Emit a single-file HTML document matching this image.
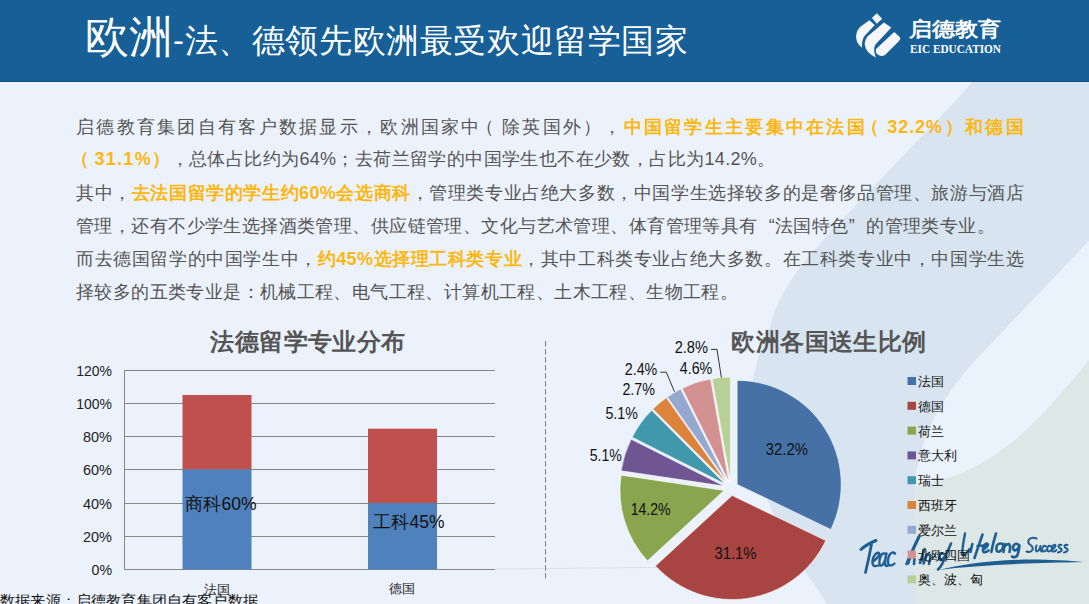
<!DOCTYPE html>
<html><head><meta charset="utf-8">
<style>
*{margin:0;padding:0;box-sizing:border-box}
html,body{width:1089px;height:604px;overflow:hidden}
body{position:relative;background:#ebf2fb;font-family:"Liberation Sans",sans-serif;color:#555}
#bg{position:absolute;left:0;top:0}
#hdr{position:absolute;left:0;top:0;width:1089px;height:82px;background:#165f97;border-bottom:1px solid #11507f}
#t1{position:absolute;left:85px;top:6.5px;color:#fff;white-space:nowrap;font-size:44px;line-height:60px}
#t1 span{font-size:33px;letter-spacing:0.6px}
.ln{text-spacing-trim:space-all;letter-spacing:0.3px;position:absolute;left:76px;width:948px;font-size:18px;line-height:33px;height:33px;white-space:nowrap;color:#555}
.j{text-align:justify;text-align-last:justify}
.lp{position:relative;left:-6px}
.o{color:#fcb712;font-weight:bold}
</style></head>
<body>
<svg id="bg" width="1089" height="604" viewBox="0 0 1089 604">
<rect width="1089" height="604" fill="#ebf2fb"/>
<path d="M973,81 L1089,81 L1089,241 L990,345 C960,375 935,410 925,440 C918,460 915,475 915.5,486 L915,604 L827,604 C815,585 808,575 800,566 C788,545 775,520 766,496 C752,465 748,420 752,385 C755,365 762,345 769,330 C774,312 778,302 785,290 C798,268 812,252 830.6,232 L899,160 L956.5,100 Z" fill="#d8e5f1"/>
<path d="M1089,241 L990,345 C960,375 935,410 925,440 C918,460 915,475 915.5,486 C930,484 955,477 970,469 C990,460 1010,445 1026,430 C1045,412 1065,390 1089,360 Z" fill="#eaf3fb"/>
<path d="M1089,360 C1065,390 1045,412 1026,430 C1010,445 990,460 970,469 C955,477 930,484 915.5,486 L915,604 L1089,604 Z" fill="#dce7e6"/>
<line x1="495" y1="569" x2="852" y2="565.5" stroke="#dae1ea" stroke-width="1"/>
</svg>
<div id="hdr"></div>
<svg id="logo" width="160" height="60" viewBox="850 8 160 60" style="position:absolute;left:850px;top:8px">
<g fill="#f4f6fa">
<path d="M871.9,17.9 L876.8,13.3 L882.2,18.7 L876.8,23.7 Z"/>
<path d="M869.4,20.3 L874.8,24.9 L864.5,36 Q861.5,40 862,47.7 Q855,42 856.2,35 Q857,30 860,27 Z"/>
<path d="M883.9,22.4 L891.3,27.4 L875.5,44.5 Q872.5,49 876,57.6 Q866,53 864.8,45 Q864.5,40 868,36 Z"/>
<path d="M894.2,31.9 L900,37.3 Q901,39 899,41 L885,55 Q882,56.5 879.5,55.6 Q875,54 876,49 Z"/>
</g>
<text x="909" y="35.5" font-family="Liberation Sans, sans-serif" font-weight="bold" font-size="19.5" fill="#fff" textLength="92" lengthAdjust="spacingAndGlyphs">启德教育</text>
<text x="910" y="52.6" font-family="Liberation Serif, serif" font-weight="bold" font-size="12" fill="#fff" textLength="91" lengthAdjust="spacingAndGlyphs">EIC EDUCATION</text>
</svg>
<div id="t1">欧洲<span>-法、德领先欧洲最受欢迎留学国家</span></div>

<div class="ln j" style="top:110.8px">启德教育集团自有客户数据显示，欧洲国家中<span class="lp">（</span>除英国外），<span class="o">中国留学生主要集中在法国<span class="lp">（</span><span style="letter-spacing:0.9px">32.2%</span>）和德国</span></div>
<div class="ln j" style="top:143.4px;width:699.5px"><span class="o"><span class="lp" style="left:-5px">（</span><span style="letter-spacing:1.3px">31.1%</span>）</span>，总体占比约为64%；去荷兰留学的中国学生也不在少数，占比为14.2%。</div>
<div class="ln j" style="top:176.9px">其中，<span class="o">去法国留学的学生约60%会选商科</span>，管理类专业占绝大多数，中国学生选择较多的是奢侈品管理、旅游与酒店</div>
<div class="ln j" style="top:209.5px;width:919px">管理，还有不少学生选择酒类管理、供应链管理、文化与艺术管理、体育管理等具有<span style="padding-left:11px">“</span>法国特色<span style="padding-right:11px">”</span>的管理类专业。</div>
<div class="ln j" style="top:242.9px">而去德国留学的中国学生中，<span class="o">约45%选择理工科类专业</span>，其中工科类专业占绝大多数。在工科类专业中，中国学生选</div>
<div class="ln j" style="top:275.5px;width:662px">择较多的五类专业是：机械工程、电气工程、计算机工程、土木工程、生物工程。</div>


<svg id="scr" width="1089" height="604" viewBox="0 0 1089 604" style="position:absolute;left:0;top:0">
<path d="M938.8,570 C960,565 990,560 1030,559.6 C1050,559.6 1070,560.6 1083.3,562 C1060,562.5 1040,563 1020,563.8 C990,565 960,567 938.8,570 Z" fill="#1f5e93"/>
<g fill="none" stroke="#1f5e93" stroke-linecap="round" stroke-linejoin="round" stroke-width="2.6">
<path d="M861,549.5 Q867,544 876,540.5" stroke-width="3"/>
<path d="M871.5,544 Q869,558 865.5,572.5" stroke-width="2.8"/>
<path d="M872.5,562 Q879,557 879.5,554 Q879,551.5 875.5,554 Q872,558.5 872.5,563.5 Q873.5,567.5 878,565.5" stroke-width="2.4"/>
<path d="M886.5,554.5 Q883,551.5 880.5,556.5 Q878.5,562 880,565.5 Q883,566.5 885,560 L886.5,553.5 Q885,559.5 885,563.5 Q885.5,567 888,565.5" stroke-width="2.4"/>
<path d="M895,553.5 Q892,551 889.5,555 Q887,560 888.5,564.5 Q891,567 894.5,563.5" stroke-width="2.4"/>
<path d="M906.5,564 Q913,548 918.5,537 Q920,535 918.5,538.5 Q912.5,550 908,563.5 M908.5,559 Q911,554 913.5,553.5 Q915.5,554 914.5,558 L914,564"/>
<path d="M924.5,549 L920,563"/>
<path d="M926,556 L923.5,563.5 M924.5,559 Q927,554 929.5,554.5 Q931,556 930,560 L929,564"/>
<path d="M945,554.5 Q941.5,551.5 939.3,555.5 Q938.2,559.5 940.5,560 Q943.5,559.5 945.5,555 M951,543.5 Q947,553 944,560 Q941,567 938,569.5"/>
<path d="M965,533.5 Q963,543 962,554 Q963,556 966,553.5 Q968.5,551 969.5,549" stroke-width="2.4"/>
<path d="M972.3,544 L970.5,552"/>
<path d="M982.5,534.5 Q978.5,546 974.5,558 M977.5,546 L985,545.5"/>
<path d="M983,549.5 Q987.5,547 988,544.5 Q987,542.5 984.5,545 Q982,549 983.5,552 Q985.5,553 988.5,550.5"/>
<path d="M996,533.5 Q993,543 991.3,552"/>
<path d="M1000,543.5 Q996.5,544 996.3,548.5 Q996.5,552.5 999.5,551.5 Q1003,550 1003.3,546 Q1003,543 1000,543.5"/>
<path d="M1004.5,544 L1003.5,552 M1004,547.5 Q1006.5,543.5 1009,544 Q1010.5,545.5 1010,549 L1009.5,552"/>
<path d="M1019,545 Q1015.5,542 1013.3,546 Q1012.5,550 1015,550.5 Q1018,550 1019.5,545.5 Q1019,551 1017.5,555 Q1015.5,558.5 1012,556.5"/>
<g stroke-width="2"><path d="M1036.5,538.5 Q1032,536.5 1029,539.5 Q1027,543 1030.5,545 Q1033.5,547 1032.5,550 Q1030.5,553 1026.5,551.5"/>
<path d="M1036.5,545.5 Q1035,549.5 1036.5,551.5 Q1039,551.5 1040.5,546 Q1039.8,550 1041.5,551.5"/>
<path d="M1046,546.5 Q1044,544.5 1042.5,547.5 Q1041.5,551 1043.5,551.5 Q1045,551.5 1046.5,550"/>
<path d="M1051,546.5 Q1049,544.5 1047.5,547.5 Q1046.5,551 1048.5,551.5 Q1050,551.5 1051.5,550"/>
<path d="M1052,549.5 Q1055.5,547.5 1055.5,545.5 Q1054.5,544 1052.5,546 Q1051,549.5 1052.5,551.5 Q1054.5,552 1056.5,550"/>
<path d="M1061.5,545 Q1058.5,544 1058.5,546.5 Q1059.5,548.5 1061.5,549 Q1062.5,551.5 1058,552.5"/>
<path d="M1067.5,545 Q1064.5,544 1064.5,546.5 Q1065.5,548.5 1067.5,549 Q1068.5,551.5 1064,552.5"/>
</g>
</g>
</svg>
<svg id="ch" width="1089" height="604" viewBox="0 0 1089 604" style="position:absolute;left:0;top:0">
<g font-family="Liberation Sans, sans-serif">
<text x="308" y="350" text-anchor="middle" font-size="24" font-weight="bold" fill="#555" letter-spacing="0.4">法德留学专业分布</text>
<text x="829" y="350" text-anchor="middle" font-size="24" font-weight="bold" fill="#555" letter-spacing="0.4">欧洲各国送生比例</text>
<g stroke="#878787" stroke-width="1" shape-rendering="crispEdges">
<line x1="124.5" y1="370.5" x2="495" y2="370.5"/>
<line x1="124.5" y1="403.5" x2="495" y2="403.5"/>
<line x1="124.5" y1="436.5" x2="495" y2="436.5"/>
<line x1="124.5" y1="469.5" x2="495" y2="469.5"/>
<line x1="124.5" y1="503.5" x2="495" y2="503.5"/>
<line x1="124.5" y1="536.5" x2="495" y2="536.5"/>
<line x1="124.5" y1="569.5" x2="495" y2="569.5"/>
<line x1="124.5" y1="370" x2="124.5" y2="570"/>
</g>
<g font-size="15.5" fill="#222" text-anchor="end">
<text x="112" y="376.2" textLength="35.7" lengthAdjust="spacingAndGlyphs">120%</text>
<text x="112" y="409.2" textLength="35.7" lengthAdjust="spacingAndGlyphs">100%</text>
<text x="112" y="442.2" textLength="29.0" lengthAdjust="spacingAndGlyphs">80%</text>
<text x="112" y="475.2" textLength="29.0" lengthAdjust="spacingAndGlyphs">60%</text>
<text x="112" y="509.2" textLength="29.0" lengthAdjust="spacingAndGlyphs">40%</text>
<text x="112" y="542.2" textLength="29.0" lengthAdjust="spacingAndGlyphs">20%</text>
<text x="112" y="575.2" textLength="20.5" lengthAdjust="spacingAndGlyphs">0%</text>
</g>
<rect x="182.5" y="395" width="69" height="74.5" fill="#c0504d"/>
<rect x="182.5" y="469.5" width="69" height="100" fill="#4f81bd"/>
<rect x="368" y="428.7" width="69" height="74.3" fill="#c0504d"/>
<rect x="368" y="503" width="69" height="66.5" fill="#4f81bd"/>
<g font-size="17.5" fill="#111" text-anchor="middle">
<text x="221" y="510">商科60%</text>
<text x="409" y="527.5">工科45%</text>
</g>
<g font-size="13" fill="#222" text-anchor="middle">
<text x="217" y="594">法国</text>
<text x="402" y="593">德国</text>
</g>
<line x1="545.5" y1="341" x2="545.5" y2="580" stroke="#7f7f7f" stroke-width="1" stroke-dasharray="5.5,2.5"/>
<g stroke="#fff" stroke-width="0.6" stroke-opacity="0.9" stroke-linejoin="round">
<path d="M737.18,484.41 L737.18,380.41 A104.0,104.0 0 0 1 830.90,529.50 Z" fill="#4571a7"/>
<path d="M732.07,495.52 L825.79,540.60 A104.0,104.0 0 0 1 655.49,565.88 Z" fill="#a84543"/>
<path d="M724.02,490.44 L647.44,560.80 A104.0,104.0 0 0 1 621.15,475.17 Z" fill="#89a54e"/>
<path d="M724.04,486.09 L621.17,470.82 A104.0,104.0 0 0 1 631.19,439.26 Z" fill="#6f5592"/>
<path d="M725.09,484.02 L632.23,437.18 A104.0,104.0 0 0 1 651.67,410.36 Z" fill="#4198ad"/>
<path d="M726.30,482.71 L652.88,409.06 A104.0,104.0 0 0 1 666.34,397.74 Z" fill="#dd843c"/>
<path d="M727.25,482.04 L667.29,397.06 A104.0,104.0 0 0 1 680.71,389.03 Z" fill="#94a8d0"/>
<path d="M728.71,481.37 L682.16,388.37 A104.0,104.0 0 0 1 710.54,378.97 Z" fill="#d39191"/>
<path d="M730.36,481.03 L712.19,378.63 A104.0,104.0 0 0 1 730.36,377.03 Z" fill="#b8cf96"/>
</g>
<g stroke="#333" stroke-width="1" fill="none">
<polyline points="660.3,372.2 666.3,372.2 674.5,391.8"/>
<polyline points="711,349.4 717,349.4 721.4,377.7"/>
</g>
<g font-size="16" fill="#111" text-anchor="middle" lengthAdjust="spacingAndGlyphs">
<text x="786.9" y="455.2" textLength="42.2" lengthAdjust="spacingAndGlyphs">32.2%</text>
<text x="735.4" y="558.6" textLength="41.8" lengthAdjust="spacingAndGlyphs">31.1%</text>
<text x="650.65" y="515.3" textLength="39.9" lengthAdjust="spacingAndGlyphs">14.2%</text>
<text x="605.8" y="461.3" textLength="32.2" lengthAdjust="spacingAndGlyphs">5.1%</text>
<text x="621.6" y="419.4" textLength="32.4" lengthAdjust="spacingAndGlyphs">5.1%</text>
<text x="638.7" y="394.8" textLength="32.6" lengthAdjust="spacingAndGlyphs">2.7%</text>
<text x="641" y="374.7" textLength="32.5" lengthAdjust="spacingAndGlyphs">2.4%</text>
<text x="696" y="374" textLength="32.5" lengthAdjust="spacingAndGlyphs">4.6%</text>
<text x="691.3" y="353.1" textLength="33.3" lengthAdjust="spacingAndGlyphs">2.8%</text>
</g>
<g font-size="13" fill="#111">
<rect x="907.5" y="377" width="8.5" height="8" fill="#4571a7"/><text x="918" y="386">法国</text>
<rect x="907.5" y="401.8" width="8.5" height="8" fill="#a84543"/><text x="918" y="410.8">德国</text>
<rect x="907.5" y="426.6" width="8.5" height="8" fill="#89a54e"/><text x="918" y="435.6">荷兰</text>
<rect x="907.5" y="451.4" width="8.5" height="8" fill="#6f5592"/><text x="918" y="460.4">意大利</text>
<rect x="907.5" y="476.2" width="8.5" height="8" fill="#4198ad"/><text x="918" y="485.2">瑞士</text>
<rect x="907.5" y="501" width="8.5" height="8" fill="#dd843c"/><text x="918" y="510">西班牙</text>
<rect x="907.5" y="525.8" width="8.5" height="8" fill="#94a8d0"/><text x="918" y="534.8">爱尔兰</text>
<rect x="907.5" y="550.6" width="8.5" height="8" fill="#d39191"/><text x="918" y="559.6">北欧四国</text>
<rect x="907.5" y="575.4" width="8.5" height="8" fill="#b8cf96"/><text x="918" y="584.4">奥、波、匈</text>
</g>
<text x="0" y="606" font-size="15" fill="#111" textLength="258" lengthAdjust="spacingAndGlyphs">数据来源：启德教育集团自有客户数据</text>
</g>
</svg>
</body></html>
